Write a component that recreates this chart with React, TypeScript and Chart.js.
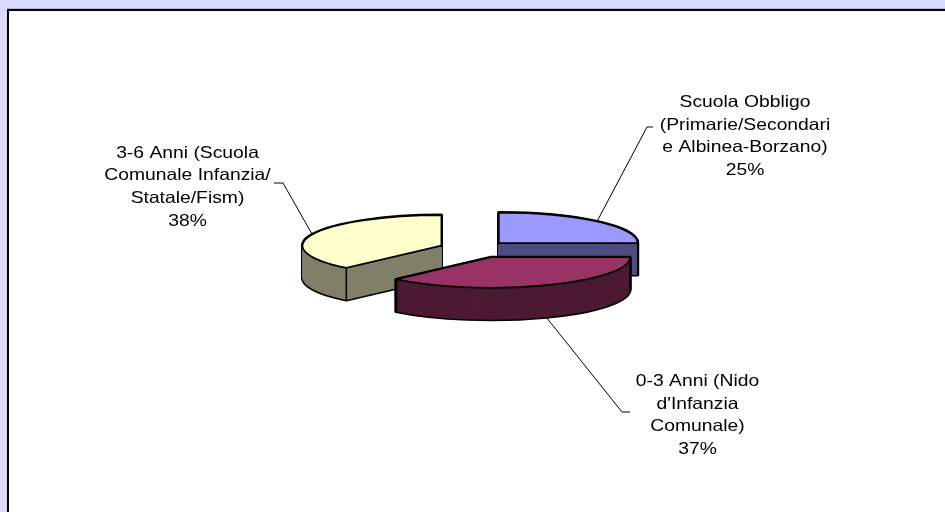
import React, { useEffect, useRef } from 'react';
import { Chart, registerables } from 'chart.js';

Chart.register(...registerables);

// ---- data ----
const categories = [
  'Scuola Obbligo (Primarie/Secondari e Albinea-Borzano)',
  "0-3 Anni (Nido d'Infanzia Comunale)",
  '3-6 Anni (Scuola Comunale Infanzia/ Statale/Fism)',
];
const labelLines = [
  ['Scuola Obbligo', '(Primarie/Secondari', 'e Albinea-Borzano)'],
  ['0-3 Anni (Nido', "d'Infanzia", 'Comunale)'],
  ['3-6 Anni (Scuola', 'Comunale Infanzia/', 'Statale/Fism)'],
];
const values = [25, 37, 38];
const percentLabels = ['25%', '37%', '38%'];

// ---- styles / layout ----
const TOP_COLORS = ['#9999FF', '#993366', '#FFFFCC'];
const SIDE_COLORS = ['#4C4C80', '#4D1A33', '#80806A'];
const EXPLODE = [35, 43, 35];
const PIE = { cy: 248.5, r: 139, k: 0.22, depth: 32 };
const LABEL_POS = [
  { x: 745, y: 106.7 },
  { x: 697.5, y: 385.7 },
  { x: 187.5, y: 157.5 },
];
const LINE_H = 22.8;
const LEADERS = [
  { ex: 647, ey: 127, tx: 653 },
  { ex: 622, ey: 412, tx: 630 },
  { ex: 283, ey: 183, tx: 274 },
];
const FONT = '16.5px "Liberation Sans", Arial, sans-serif';
const TEXT_SCALE_X = 1.17;

function withUniformStroke(ctx: CanvasRenderingContext2D, fn: () => void) {
  const proto = Object.getPrototypeOf(ctx);
  const origStroke = proto.stroke;
  (ctx as any).stroke = function (...args: any[]) {
    this.save();
    this.setTransform(1, 0, 0, 1, 0, 0);
    origStroke.apply(this, args);
    this.restore();
  };
  try {
    fn();
  } finally {
    delete (ctx as any).stroke;
  }
}

const pie3d = {
  id: 'pie3d',
  beforeDatasetsDraw(chart: any) {
    const ctx: CanvasRenderingContext2D = chart.ctx;
    const meta = chart.getDatasetMeta(0);
    const arcs = meta.data as any[];
    const mids = arcs.map((a) => (a.startAngle + a.endAngle) / 2);
    const order = arcs.map((_, i) => i).sort((i, j) => Math.sin(mids[i]) - Math.sin(mids[j]));

    withUniformStroke(ctx, () => {
      for (const i of order) {
        const arc = arcs[i];
        const orig = arc.options;
        const mid = mids[i];
        const ex = EXPLODE[i];
        const drawLayer = (t: number, opts: any) => {
          ctx.save();
          ctx.translate(arc.x, PIE.cy + t);
          ctx.scale(1, PIE.k);
          ctx.translate(-arc.x, -arc.y);
          ctx.translate(Math.cos(mid) * ex, Math.sin(mid) * ex);
          arc.options = { ...orig, offset: 0, ...opts };
          arc.draw(ctx);
          arc.options = orig;
          ctx.restore();
        };
        // black silhouette
        for (let t = PIE.depth; t >= 0; t--) {
          drawLayer(t, { backgroundColor: '#000', borderColor: '#000', borderWidth: 3, borderJoinStyle: 'round' });
        }
        // sides
        for (let t = PIE.depth; t >= 1; t--) {
          drawLayer(t, { backgroundColor: SIDE_COLORS[i], borderWidth: 0 });
        }
        // vertical edges at outer corners
        ctx.save();
        ctx.strokeStyle = '#000';
        ctx.lineWidth = 1.5;
        for (const ang of [arc.startAngle, arc.endAngle]) {
          const x = arc.x + Math.cos(mid) * ex + Math.cos(ang) * arc.outerRadius;
          const y = PIE.cy + PIE.k * (Math.sin(mid) * ex + Math.sin(ang) * arc.outerRadius);
          ctx.beginPath();
          ctx.moveTo(x, y);
          ctx.lineTo(x, y + PIE.depth);
          ctx.stroke();
        }
        ctx.restore();
        // top
        drawLayer(0, { backgroundColor: TOP_COLORS[i], borderColor: '#000', borderWidth: 1.8, borderJoinStyle: 'round' });
      }
    });
    return false;
  },
  afterDraw(chart: any) {
    const ctx: CanvasRenderingContext2D = chart.ctx;
    const meta = chart.getDatasetMeta(0);
    const arcs = meta.data as any[];
    arcs.forEach((arc, i) => {
      const mid = (arc.startAngle + arc.endAngle) / 2;
      const rr = EXPLODE[i] + arc.outerRadius;
      const ax = arc.x + Math.cos(mid) * rr;
      let ay = PIE.cy + PIE.k * Math.sin(mid) * rr;
      if (Math.sin(mid) > 0) ay += PIE.depth;
      const L = LEADERS[i];
      ctx.save();
      ctx.strokeStyle = '#000';
      ctx.lineWidth = 1;
      ctx.beginPath();
      ctx.moveTo(ax, ay);
      ctx.lineTo(L.ex, L.ey);
      ctx.lineTo(L.tx, L.ey);
      ctx.stroke();
      ctx.restore();

      const lines = [...labelLines[i], percentLabels[i]];
      const p = LABEL_POS[i];
      ctx.save();
      ctx.fillStyle = '#000';
      ctx.font = FONT;
      ctx.textAlign = 'center';
      ctx.textBaseline = 'alphabetic';
      lines.forEach((ln, j) => {
        ctx.save();
        ctx.translate(p.x, p.y + j * LINE_H);
        ctx.scale(TEXT_SCALE_X, 1);
        ctx.fillText(ln, 0, 0);
        ctx.restore();
      });
      ctx.restore();
    });
  },
};

export default function App() {
  const ref = useRef<HTMLCanvasElement>(null);
  useEffect(() => {
    if (!ref.current) return;
    const chart = new Chart(ref.current, {
      type: 'pie',
      data: {
        labels: categories,
        datasets: [
          {
            data: values,
            backgroundColor: TOP_COLORS,
            borderColor: '#000',
            borderWidth: 1.8,
            radius: PIE.r,
          } as any,
        ],
      },
      options: {
        responsive: false,
        animation: false,
        devicePixelRatio: 1,
        layout: { padding: { left: 3, right: 0, top: 0, bottom: 0 } },
        plugins: { legend: { display: false }, tooltip: { enabled: false } },
      },
      plugins: [pie3d as any],
    });
    return () => chart.destroy();
  }, []);

  return (
    <div
      style={{
        position: 'fixed',
        left: 0,
        top: 0,
        width: 945,
        height: 512,
        background: '#D9D9FF',
        overflow: 'hidden',
      }}
    >
      <div
        style={{
          position: 'absolute',
          left: 7,
          top: 9,
          width: 1000,
          height: 1000,
          background: '#FFFFFF',
          borderLeft: '2px solid #000',
          borderTop: '2px solid #000',
          boxShadow: '0 -1px 0 #B4B4DC',
        }}
      />
      <canvas ref={ref} width={945} height={512} style={{ position: 'absolute', left: 0, top: 0 }} />
    </div>
  );
}
